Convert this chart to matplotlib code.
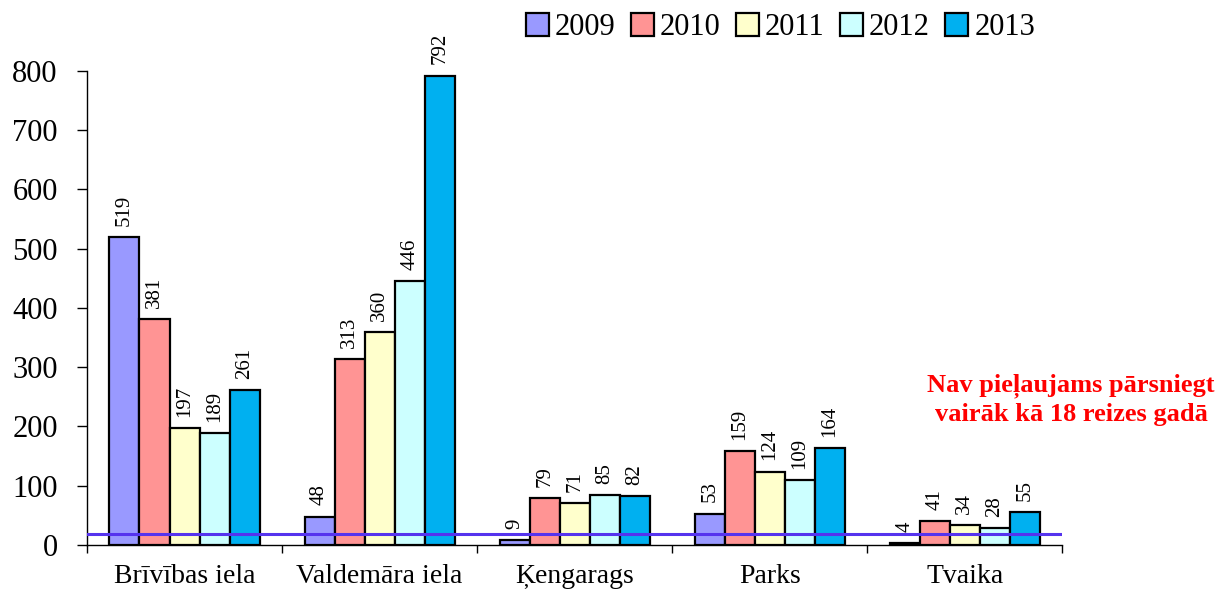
import matplotlib.pyplot as plt
import numpy as np

plt.rcParams['font.family'] = ['Liberation Serif', 'DejaVu Serif']

categories = ['Brīvības iela', 'Valdemāra iela', 'Ķengarags', 'Parks', 'Tvaika']
years = ['2009', '2010', '2011', '2012', '2013']
v2009 = [519, 48, 9, 53, 4]
v2010 = [381, 313, 79, 159, 41]
v2011 = [197, 360, 71, 124, 34]
v2012 = [189, 446, 85, 109, 28]
v2013 = [261, 792, 82, 164, 55]
limit = 18

series = [v2009, v2010, v2011, v2012, v2013]
colors = ['#9999FF', '#FF9494', '#FFFFCC', '#CCFFFF', '#00B0F0']

fig = plt.figure(figsize=(12.17, 5.95), dpi=100)
ax = fig.add_axes([0.0715, 0.084, 0.8015, 0.797])

x = np.arange(len(categories))
w = 0.154
for i, vals in enumerate(series):
    pos = x + (i - 2) * w
    bars = ax.bar(pos, vals, w, color=colors[i], edgecolor='black', linewidth=1.6,
                  label=years[i], zorder=2)
    for b, v in zip(bars, vals):
        ax.annotate(str(v), (b.get_x() + b.get_width() / 2, v), xytext=(0, 8),
                    textcoords='offset points', rotation=90, ha='center', va='bottom',
                    fontsize=15)

ax.axhline(limit, color='#5533EE', linewidth=2.2, zorder=3)

ax.set_xlim(-0.5, 4.5)
ax.set_ylim(0, 800)
ax.set_yticks(range(0, 801, 100))
ax.tick_params(axis='y', labelsize=22, direction='out', length=7, width=1, pad=14)
ax.set_xticks(x)
ax.set_xticklabels(categories, fontsize=20)
ax.tick_params(axis='x', length=0, pad=14)
ax.set_xticks(np.arange(-0.5, 4.6, 1), minor=True)
ax.tick_params(axis='x', which='minor', length=6, width=1, direction='out')
for s in ['top', 'right']:
    ax.spines[s].set_visible(False)
for s in ['left', 'bottom']:
    ax.spines[s].set_linewidth(1)

ax.legend(loc='lower center', bbox_to_anchor=(0.711, 1.035), ncol=5, frameon=False,
          fontsize=22, handlelength=0.75, handleheight=0.75, handletextpad=0.2,
          columnspacing=0.5, borderaxespad=0)

fig.text(0.88, 0.328, 'Nav pieļaujams pārsniegt\nvairāk kā 18 reizes gadā',
         color='red', fontsize=19, fontweight='bold', ha='center', va='center',
         linespacing=1.25)

fig.savefig('out.png', dpi=100)
